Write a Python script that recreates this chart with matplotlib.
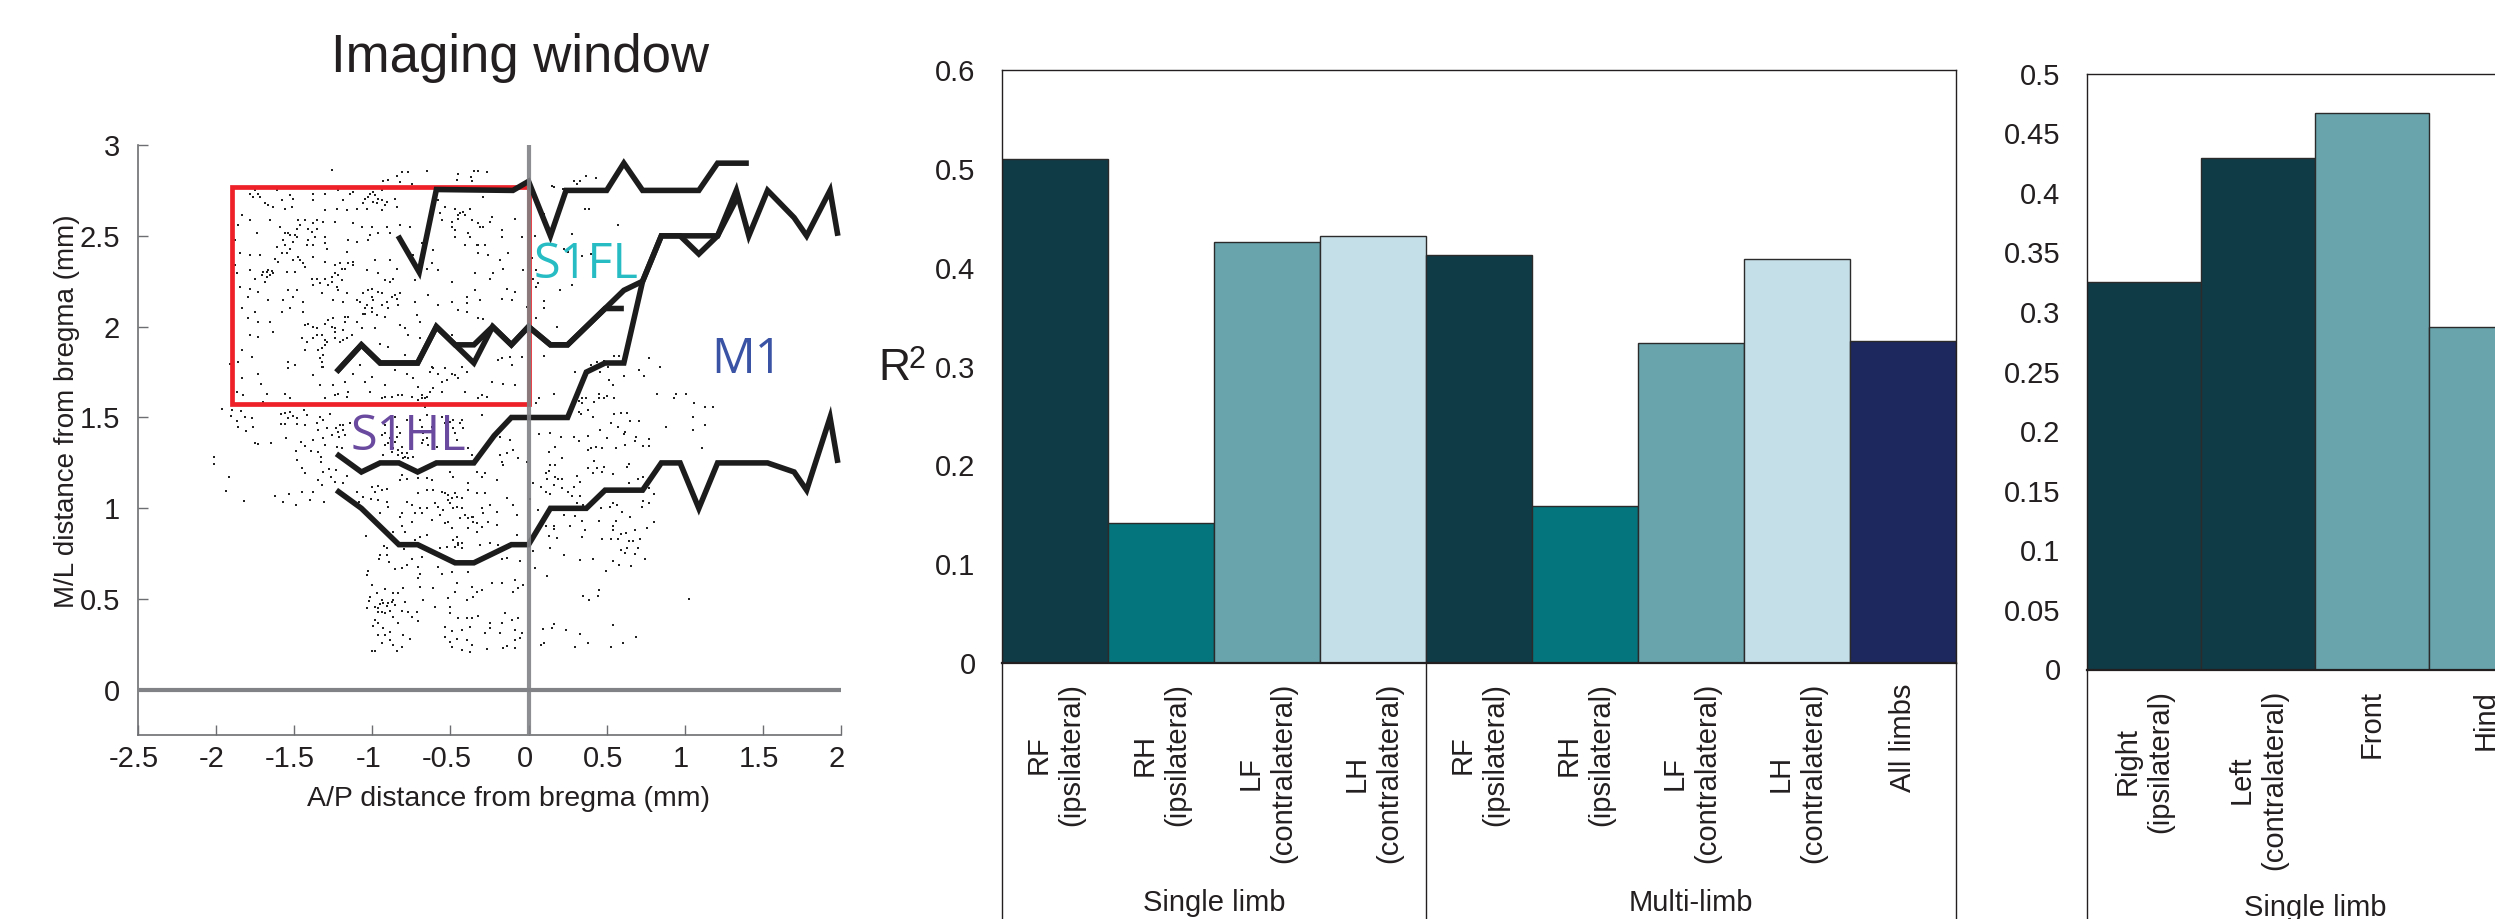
"""Imaging window map with R2 bar panels, saved to out.png."""

import matplotlib
matplotlib.use("Agg")
import matplotlib.pyplot as plt
from matplotlib.patches import Rectangle
from matplotlib.transforms import ScaledTranslation, blended_transform_factory

W, H = 2495, 919

# stippled cells (A/P, M/L)
dots_red_box = [
    (-1.89, 2.724), (-1.89, 2.705), (-1.784, 2.733), (-1.752, 2.751), (-1.73, 2.733), (-1.72, 2.715), (-1.763, 2.715),
    (-1.688, 2.678), (-1.667, 2.669), (-1.635, 2.66), (-1.613, 2.751), (-1.581, 2.696), (-1.528, 2.724), (-1.506, 2.705),
    (-1.56, 2.65), (-1.517, 2.66), (-1.378, 2.733), (-1.304, 2.733), (-1.378, 2.696), (-1.218, 2.751), (-1.186, 2.696),
    (-1.144, 2.733), (-1.122, 2.742), (-1.304, 2.641), (-1.229, 2.65), (-1.165, 2.641), (-1.101, 2.65), (-1.048, 2.705),
    (-1.016, 2.733), (-0.984, 2.724), (-0.962, 2.705), (-0.994, 2.687), (-1.037, 2.65), (-0.941, 2.751), (-0.909, 2.687),
    (-0.856, 2.705), (-0.845, 2.66), (-0.941, 2.641), (-0.578, 2.696), (-0.536, 2.66), (-0.568, 2.623), (-0.472, 2.65),
    (-0.44, 2.623), (-0.407, 2.614), (-0.45, 2.595), (-0.375, 2.65), (-0.29, 2.715), (-0.237, 2.605), (-0.087, 2.595),
    (-1.837, 2.614), (-1.784, 2.586), (-1.859, 2.559), (-1.741, 2.513), (-1.88, 2.476), (-1.656, 2.586), (-1.592, 2.55),
    (-1.56, 2.513), (-1.528, 2.504), (-1.485, 2.54), (-1.475, 2.586), (-1.432, 2.586), (-1.378, 2.568), (-1.357, 2.54),
    (-1.368, 2.494), (-1.41, 2.476), (-1.571, 2.476), (-1.506, 2.467), (-1.613, 2.44), (-1.304, 2.458), (-1.314, 2.577),
    (-1.24, 2.577), (-1.122, 2.568), (-1.069, 2.55), (-1.005, 2.55), (-1.154, 2.476), (-1.101, 2.467), (-1.026, 2.476),
    (-1.016, 2.504), (-0.962, 2.513), (-0.909, 2.55), (-0.888, 2.513), (-0.824, 2.559), (-0.76, 2.55), (-0.653, 2.522),
    (-0.685, 2.458), (-0.557, 2.586), (-0.493, 2.55), (-0.472, 2.494), (-0.386, 2.513), (-0.322, 2.568), (-0.29, 2.55),
    (-0.333, 2.449), (-0.247, 2.577), (-0.173, 2.531), (-0.173, 2.494), (-0.045, 2.494), (-0.407, 2.449),
    (-1.848, 2.403), (-1.784, 2.394), (-1.72, 2.394), (-1.88, 2.339), (-1.869, 2.293), (-1.784, 2.311), (-1.699, 2.302),
    (-1.667, 2.311), (-1.635, 2.293), (-1.677, 2.274), (-1.752, 2.265), (-1.624, 2.375), (-1.549, 2.403), (-1.506, 2.366),
    (-1.464, 2.366), (-1.432, 2.329), (-1.496, 2.302), (-1.549, 2.302), (-1.378, 2.384), (-1.304, 2.357), (-1.208, 2.348),
    (-1.165, 2.412), (-1.122, 2.357), (-1.176, 2.32), (-1.24, 2.293), (-1.304, 2.265), (-1.389, 2.265), (-1.261, 2.247),
    (-1.197, 2.256), (-1.037, 2.311), (-0.984, 2.366), (-0.962, 2.293), (-0.888, 2.366), (-0.845, 2.32), (-0.866, 2.265),
    (-0.92, 2.256), (-0.738, 2.394), (-0.621, 2.348), (-0.653, 2.32), (-0.578, 2.311), (-0.61, 2.421), (-0.728, 2.256),
    (-0.493, 2.247), (-0.322, 2.403), (-0.258, 2.394), (-0.13, 2.403), (-0.184, 2.366), (-0.343, 2.293), (-0.226, 2.293),
    (-0.247, 2.265), (-0.162, 2.32), (-0.034, 2.311),
    (-1.848, 2.219), (-1.784, 2.21), (-1.795, 2.164), (-1.731, 2.192), (-1.667, 2.146), (-1.688, 2.247), (-1.539, 2.201),
    (-1.485, 2.201), (-1.506, 2.164), (-1.571, 2.146), (-1.442, 2.137), (-1.528, 2.1), (-1.581, 2.082), (-1.442, 2.082),
    (-1.837, 2.1), (-1.752, 2.082), (-1.378, 2.228), (-1.325, 2.183), (-1.25, 2.146), (-1.218, 2.201), (-1.165, 2.183),
    (-1.186, 2.137), (-1.101, 2.146), (-1.058, 2.183), (-1.005, 2.21), (-0.941, 2.183), (-0.994, 2.146), (-1.048, 2.1),
    (-1.058, 2.072), (-1.005, 2.082), (-0.898, 2.1), (-0.845, 2.155), (-0.834, 2.118), (-0.824, 2.183), (-0.888, 2.247),
    (-0.728, 2.137), (-0.642, 2.173), (-0.578, 2.118), (-0.493, 2.137), (-0.397, 2.164), (-0.397, 2.128), (-0.343, 2.201),
    (-0.311, 2.146), (-0.45, 2.091), (-0.397, 2.082), (-0.141, 2.21), (-0.109, 2.146), (-0.087, 2.192), (-0.173, 2.155),
    (-0.012, 2.109),
    (-1.795, 2.045), (-1.731, 2.027), (-1.656, 2.027), (-1.634, 1.972), (-1.784, 1.953), (-1.731, 1.944), (-1.432, 2.008),
    (-1.378, 1.999), (-1.304, 2.017), (-1.25, 2.045), (-1.176, 2.054), (-1.101, 2.027), (-1.24, 1.99), (-1.186, 1.981),
    (-1.453, 1.935), (-1.421, 1.916), (-1.357, 1.953), (-1.304, 1.926), (-1.24, 1.935), (-1.186, 1.926), (-1.133, 1.953),
    (-1.069, 1.99), (-0.984, 1.99), (-0.92, 2.054), (-0.824, 2.008), (-0.77, 1.953), (-0.717, 2.063), (-0.696, 2.027),
    (-0.792, 1.99), (-0.493, 1.953), (-0.322, 2.045), (-0.29, 2.041), (-1.432, 1.871), (-1.325, 1.88), (-1.304, 1.898),
    (-0.952, 1.907), (-0.898, 1.889), (-0.792, 1.843), (-0.696, 1.935),
    (-1.539, 1.806), (-1.496, 1.788), (-1.539, 1.77), (-1.325, 1.806), (-1.314, 1.779), (-1.837, 1.871), (-1.859, 1.806),
    (-1.773, 1.834), (-1.912, 1.794), (-1.731, 1.737), (-1.713, 1.687), (-1.837, 1.715), (-1.869, 1.638), (-1.827, 1.623),
    (-1.677, 1.627), (-1.56, 1.632), (-1.528, 1.605), (-1.699, 1.586), (-1.378, 1.733), (-1.336, 1.678), (-1.25, 1.678),
    (-1.304, 1.605), (-1.218, 1.632), (-1.176, 1.696), (-1.122, 1.742), (-1.08, 1.788), (-1.154, 1.641), (-1.048, 1.696),
    (-1.005, 1.724), (-0.92, 1.678), (-1.016, 1.641), (-0.941, 1.605), (-0.856, 1.761), (-0.781, 1.742), (-0.834, 1.623),
    (-0.738, 1.715), (-0.706, 1.669), (-0.685, 1.605), (-0.653, 1.614), (-0.621, 1.779), (-0.578, 1.742), (-0.525, 1.705),
    (-0.61, 1.66), (-0.557, 1.641), (-0.493, 1.742), (-0.429, 1.779), (-0.45, 1.715), (-0.407, 1.641), (-0.322, 1.605),
    (-0.269, 1.614), (-0.237, 1.696), (-0.194, 1.816), (-0.173, 1.825), (-0.119, 1.834), (-0.109, 1.788), (-0.045, 1.834),
    (-0.162, 1.687), (-0.087, 1.678), (-0.13, 1.577), (-0.653, 1.577), (-0.664, 1.559), (-0.749, 1.614),
]

# second pass over the densest patches inside the box
dots_red_box_dense = [
    (-1.539, 2.513), (-1.485, 2.494), (-1.41, 2.54), (-1.389, 2.522), (-1.421, 2.449), (-1.378, 2.449), (-1.56, 2.449),
    (-1.528, 2.43), (-1.496, 2.504), (-1.464, 2.559), (-1.357, 2.586), (-1.304, 2.494), (-1.293, 2.43), (-1.581, 2.403),
    (-1.474, 2.384), (-1.442, 2.348), (-1.603, 2.357), (-1.709, 2.283), (-1.677, 2.302), (-1.645, 2.306), (-1.656, 2.283),
    (-1.24, 2.339), (-1.197, 2.32), (-1.154, 2.348), (-1.122, 2.339), (-1.218, 2.283), (-1.261, 2.274), (-1.357, 2.265),
    (-1.336, 2.238), (-1.282, 2.228), (-1.229, 2.219), (-1.08, 2.137), (-1.026, 2.201), (-1.005, 2.164), (-0.962, 2.192),
    (-1.037, 2.118), (-1.005, 2.1), (-0.941, 2.118), (-0.909, 2.137), (-0.856, 2.173), (-0.877, 2.164), (-1.048, 2.072),
    (-0.973, 2.063), (-1.176, 2.027), (-1.154, 2.054), (-1.41, 2.017), (-1.357, 1.99), (-1.282, 2.036), (-1.261, 1.999),
    (-1.378, 1.935), (-1.325, 1.953), (-1.293, 1.916), (-1.346, 1.871), (-1.314, 1.843), (-1.325, 1.779), (-1.336, 1.825),
    (-1.24, 1.972), (-1.208, 1.916), (-1.165, 1.935), (-1.026, 2.715), (-0.994, 2.742), (-0.973, 2.678), (-0.941, 2.696),
    (-0.92, 2.669), (-1.058, 2.678), (-0.45, 2.614), (-0.418, 2.632), (-0.493, 2.577), (-0.472, 2.531), (-0.365, 2.586),
    (-0.312, 2.55), (-0.375, 2.494), (-0.322, 2.449), (-0.28, 2.449), (-0.664, 1.605), (-0.685, 1.623), (-0.632, 1.641),
    (-0.706, 1.595), (-0.61, 1.77), (-0.632, 1.751), (-0.557, 1.696), (-0.536, 1.77), (-0.472, 1.733), (-0.397, 1.751),
    (-1.24, 1.623), (-1.165, 1.614), (-0.92, 1.614), (-0.877, 1.614), (-0.813, 1.623), (-0.301, 1.623),
]

dots_above_box = [
    (-1.257, 2.861), (-0.813, 2.849), (-0.77, 2.849), (-0.845, 2.83), (-0.824, 2.797), (-0.93, 2.8), (-0.653, 2.856),
    (-0.45, 2.838), (-0.461, 2.806), (-0.348, 2.856), (-0.322, 2.856), (-0.269, 2.849), (-0.369, 2.825), (-0.365, 2.8),
    (-0.898, 2.806), (-0.749, 2.788), (-0.493, 2.77),
]

dots_hindlimb = [
    (-1.96, 1.545), (-1.90, 1.54), (-1.905, 1.51), (-1.84, 1.535), (-1.815, 1.5), (-1.77, 1.495), (-1.865, 1.48),
    (-1.86, 1.445), (-1.765, 1.45), (-1.81, 1.425), (-1.75, 1.36), (-1.73, 1.355), (-1.65, 1.36), (-2.015, 1.284),
    (-2.015, 1.242), (-1.915, 1.175), (-1.935, 1.093), (-1.82, 1.04), (-1.62, 1.07), (-1.535, 1.077), (-1.57, 1.033),
    (-1.49, 1.016), (-1.45, 1.09), (-1.38, 1.09), (-1.40, 1.045), (-1.31, 1.035),
    (-1.585, 1.519), (-1.56, 1.526), (-1.53, 1.53), (-1.51, 1.508), (-1.54, 1.495), (-1.485, 1.495), (-1.44, 1.54),
    (-1.42, 1.513), (-1.585, 1.462), (-1.56, 1.464), (-1.485, 1.464), (-1.43, 1.458),
    (-1.336, 1.504), (-1.315, 1.486), (-1.357, 1.468), (-1.27, 1.519), (-1.346, 1.43), (-1.29, 1.44), (-1.26, 1.403),
    (-1.315, 1.385), (-1.38, 1.376), (-1.30, 1.348), (-1.55, 1.389), (-1.457, 1.363), (-1.43, 1.345), (-1.49, 1.317),
    (-1.395, 1.315), (-1.35, 1.312), (-1.33, 1.284), (-1.48, 1.266), (-1.33, 1.257), (-1.453, 1.222), (-1.43, 1.194),
    (-1.315, 1.2), (-1.278, 1.214), (-1.233, 1.21), (-1.265, 1.17), (-1.24, 1.146), (-1.35, 1.156), (-1.32, 1.126),
    (-1.165, 1.178), (-1.186, 1.137), (-1.095, 1.09), (-1.06, 1.064), (-1.085, 1.036),
    (-1.208, 1.458), (-1.186, 1.43), (-1.23, 1.44), (-1.214, 1.394), (-1.176, 1.403), (-1.229, 1.339), (-1.197, 1.33),
    (-1.144, 1.468), (-0.909, 1.486), (-0.94, 1.403), (-0.92, 1.348), (-0.887, 1.385), (-0.856, 1.504), (-0.845, 1.449),
    (-0.877, 1.431), (-0.824, 1.412), (-0.856, 1.367), (-0.813, 1.339), (-0.877, 1.312), (-0.93, 1.293), (-0.834, 1.293),
    (-0.802, 1.275), (-0.781, 1.302), (-0.738, 1.284), (-0.781, 1.486), (-0.75, 1.431), (-0.696, 1.486), (-0.674, 1.412),
    (-0.685, 1.358), (-0.653, 1.385), (-0.621, 1.449), (-0.589, 1.339), (-0.653, 1.513), (-0.557, 1.504), (-0.504, 1.477),
    (-0.482, 1.44), (-0.514, 1.394), (-0.461, 1.376), (-0.429, 1.486), (-0.418, 1.44), (-0.386, 1.33), (-0.365, 1.293),
    (-0.301, 1.513), (-0.183, 1.394), (-0.119, 1.376), (-0.183, 1.293), (-0.14, 1.302), (-0.173, 1.257), (-0.098, 1.321),
    (-0.066, 1.275), (-0.013, 1.257), (-0.162, 1.238),
    (-0.813, 1.183), (-0.824, 1.156), (-0.781, 1.159), (-0.706, 1.165), (-0.653, 1.165), (-0.621, 1.156), (-0.504, 1.2),
    (-0.482, 1.17), (-0.386, 1.137), (-0.333, 1.2), (-0.279, 1.192), (-0.301, 1.17), (-0.205, 1.156),
    (-1.0, 1.119), (-0.962, 1.123), (-0.941, 1.1), (-0.984, 1.091), (-0.903, 1.104), (-1.011, 1.049), (-0.962, 1.046),
    (-0.909, 1.036), (-0.952, 0.972), (-0.898, 1.005),
    (-0.706, 1.086), (-0.653, 1.1), (-0.61, 1.1), (-0.557, 1.091), (-0.514, 1.073), (-0.471, 1.082), (-0.429, 1.055),
    (-0.386, 1.1), (-0.333, 1.082), (-0.279, 1.082), (-0.781, 1.036), (-0.749, 1.018), (-0.696, 0.9996), (-0.653, 1.0),
    (-0.6, 1.027), (-0.546, 0.99), (-0.504, 1.027), (-0.461, 1.009), (-0.408, 0.963), (-0.365, 0.954), (-0.301, 1.0),
    (-0.248, 1.018), (-0.205, 0.981), (-0.141, 1.055), (-0.098, 1.018), (-0.077, 0.963), (-0.813, 0.972), (-0.824, 0.954),
    (-0.728, 0.972), (-0.685, 0.972), (-0.567, 0.963), (-0.514, 0.926), (-0.44, 0.945), (-0.354, 0.926), (-0.301, 0.899),
    (-0.258, 0.926), (-0.205, 0.908), (-0.813, 0.902), (-0.749, 0.926), (-0.79, 0.871), (-0.621, 0.935), (-0.535, 0.917),
    (-0.493, 0.89), (-0.386, 0.89), (-0.333, 0.871),
    (-0.696, 0.844), (-0.653, 0.853), (-0.728, 0.825), (-1.041, 0.849), (-0.461, 0.844), (-0.482, 0.825), (-0.45, 0.798),
    (-0.429, 0.78), (-0.525, 0.789), (-0.567, 0.78), (-0.311, 0.798), (-0.247, 0.807), (-0.194, 0.798), (-0.077, 0.853),
    (-0.866, 0.871),
    (-0.926, 0.792), (-0.903, 0.78), (-0.952, 0.743), (-0.903, 0.743), (-0.958, 0.721), (-0.892, 0.706), (-0.798, 0.774),
    (-0.685, 0.734), (-0.749, 0.719), (-0.781, 0.688), (-0.856, 0.664), (-0.813, 0.669), (-0.706, 0.679), (-0.578, 0.679),
    (-0.557, 0.638), (-0.493, 0.651), (-0.386, 0.651), (-0.173, 0.719), (-0.141, 0.724), (-0.055, 0.712),
    (-1.027, 0.657), (-1.033, 0.633), (-0.695, 0.638), (-0.706, 0.614), (-1.0, 0.578), (-0.92, 0.554), (-0.802, 0.563),
    (-0.695, 0.568), (-0.61, 0.559), (-0.461, 0.59), (-0.471, 0.541), (-0.365, 0.568), (-0.333, 0.541), (-0.301, 0.55),
    (-0.237, 0.587), (-0.173, 0.587), (-0.087, 0.605), (-0.034, 0.578), (-0.098, 0.541), (-0.066, 0.559),
    (-0.973, 0.535), (-0.866, 0.532), (-0.834, 0.532), (-1.016, 0.513), (-1.022, 0.491), (-0.941, 0.495), (-0.877, 0.486),
    (-0.79, 0.486), (-0.952, 0.473), (-0.984, 0.458), (-0.909, 0.462), (-0.856, 0.468), (-1.031, 0.453), (-0.962, 0.431),
    (-0.92, 0.425), (-0.888, 0.436), (-0.813, 0.436), (-0.77, 0.431), (-0.717, 0.431), (-0.866, 0.403), (-0.749, 0.403),
    (-0.706, 0.381), (-0.674, 0.495), (-0.6, 0.455), (-0.514, 0.504), (-0.397, 0.495), (-0.354, 0.513), (-0.504, 0.458),
    (-0.504, 0.422), (-0.322, 0.407), (-0.45, 0.394), (-0.397, 0.394), (-0.365, 0.394), (-0.151, 0.422), (-0.247, 0.367),
    (-0.173, 0.367), (-0.109, 0.385), (-0.066, 0.394),
    (-0.984, 0.385), (-0.962, 0.367), (-0.994, 0.352), (-0.93, 0.339), (-0.888, 0.321), (-0.92, 0.302), (-0.834, 0.37),
    (-0.962, 0.302), (-0.802, 0.302), (-0.76, 0.279), (-0.888, 0.275), (-0.941, 0.257), (-0.866, 0.247), (-0.813, 0.238),
    (-0.845, 0.216), (-1.005, 0.216), (-0.984, 0.216),
    (-0.536, 0.348), (-0.493, 0.326), (-0.429, 0.33), (-0.375, 0.348), (-0.536, 0.293), (-0.461, 0.279), (-0.504, 0.266),
    (-0.397, 0.275), (-0.365, 0.247), (-0.493, 0.235), (-0.429, 0.22), (-0.375, 0.211), (-0.269, 0.224), (-0.247, 0.339),
    (-0.279, 0.312), (-0.183, 0.312), (-0.087, 0.33), (-0.045, 0.312), (-0.087, 0.275), (-0.055, 0.284), (-0.162, 0.229),
    (-0.087, 0.229), (-0.141, 0.242),
]

dots_hindlimb_dense = [
    (-0.92, 1.412), (-0.898, 1.358), (-0.866, 1.33), (-0.834, 1.321), (-0.813, 1.302), (-0.792, 1.284), (-0.77, 1.275),
    (-0.845, 1.394), (-0.92, 1.458), (-0.674, 1.376), (-0.642, 1.348), (-0.685, 1.449), (-0.535, 1.468), (-0.482, 1.486),
    (-0.44, 1.468), (-0.471, 1.412), (-1.218, 1.422), (-1.186, 1.458), (-0.536, 1.082), (-0.493, 1.055), (-0.461, 1.064),
    (-0.514, 1.046), (-0.578, 1.009), (-0.482, 1.0), (-0.429, 1.0), (-0.386, 0.945), (-0.354, 0.954), (-0.333, 0.917),
    (-0.29, 0.972), (-0.45, 0.807), (-0.429, 0.807), (-0.471, 0.789), (-0.93, 0.477), (-0.898, 0.477), (-0.962, 0.449),
    (-0.941, 0.431), (-0.866, 0.495),
]

dots_right = [
    (0.15, 2.775), (0.16, 2.77), (0.29, 2.80), (0.33, 2.80), (0.31, 2.785), (0.37, 2.83), (0.43, 2.82), (0.22, 2.76),
    (0.36, 2.65), (0.385, 2.65), (0.10, 2.62), (0.57, 2.56), (0.28, 2.51), (0.04, 2.50), (0.23, 2.43), (0.25, 2.41),
    (0.34, 2.39), (0.40, 2.40), (0.02, 2.38), (0.05, 2.31), (0.03, 2.26), (0.06, 2.24), (0.05, 2.22), (0.28, 2.23),
    (0.2, 2.2), (0.1, 2.14), (0.01, 2.14), (0.10, 2.10), (0.05, 2.05), (0.18, 2.0), (0.10, 1.84), (0.55, 1.84),
    (0.58, 1.84), (0.77, 1.825), (0.84, 1.78), (0.48, 1.81), (0.44, 1.807), (0.40, 1.79), (0.30, 1.75), (0.51, 1.78),
    (0.46, 1.75), (0.71, 1.76), (0.74, 1.73), (0.61, 1.73), (0.515, 1.705), (0.54, 1.68), (0.16, 1.63), (0.07, 1.61),
    (0.05, 1.58), (0.34, 1.61), (0.37, 1.61), (0.45, 1.63), (0.50, 1.62), (0.485, 1.61), (0.545, 1.61), (0.45, 1.605),
    (0.42, 1.585), (0.325, 1.59), (0.34, 1.58), (0.825, 1.63), (0.945, 1.63), (0.93, 1.61), (1.01, 1.63), (1.06, 1.58),
    (1.13, 1.56), (1.18, 1.56), (0.32, 1.53), (0.38, 1.54), (0.335, 1.52), (0.415, 1.505), (0.55, 1.52), (0.59, 1.525),
    (0.63, 1.525), (0.53, 1.47), (0.65, 1.48), (0.71, 1.48), (0.57, 1.445), (0.455, 1.43), (1.05, 1.50), (1.13, 1.46),
    (0.88, 1.45), (1.05, 1.43), (0.07, 1.41), (0.14, 1.415), (0.61, 1.41), (0.62, 1.42), (0.38, 1.40), (0.21, 1.395),
    (0.29, 1.39), (0.32, 1.37), (0.50, 1.385), (0.69, 1.39), (0.77, 1.38), (0.68, 1.37), (0.17, 1.34), (0.40, 1.33),
    (0.43, 1.335), (0.47, 1.33), (0.38, 1.32), (0.615, 1.35), (0.56, 1.33), (0.73, 1.345), (0.77, 1.345), (1.11, 1.33),
    (0.13, 1.31), (0.215, 1.275), (0.42, 1.26), (0.17, 1.24), (0.14, 1.24), (0.64, 1.245), (0.63, 1.23), (0.38, 1.22),
    (0.48, 1.23), (0.44, 1.22), (0.13, 1.205), (0.11, 1.195), (0.41, 1.195), (0.47, 1.20), (0.54, 1.19), (0.31, 1.18),
    (0.17, 1.17), (0.115, 1.16), (0.215, 1.16), (0.19, 1.16), (0.03, 1.14), (0.33, 1.145), (0.73, 1.17), (0.70, 1.16),
    (0.165, 1.13), (0.08, 1.12), (0.29, 1.12), (0.64, 1.14), (0.215, 1.11), (0.11, 1.09), (0.14, 1.08), (0.25, 1.09),
    (0.33, 1.07), (0.28, 1.07), (0.77, 1.11), (0.80, 1.08), (0.01, 1.05), (0.735, 1.04), (0.31, 1.03), (0.35, 1.02),
    (0.77, 1.03), (0.54, 1.03), (0.565, 1.02), (0.725, 1.01), (0.52, 1.01), (0.465, 1.0), (0.06, 0.99), (0.595, 0.98),
    (0.225, 0.965), (0.30, 0.96), (0.65, 0.95), (0.45, 0.93), (0.34, 0.93), (0.56, 0.93), (0.80, 0.925), (0.11, 0.90),
    (0.16, 0.90), (0.265, 0.90), (0.54, 0.90), (0.76, 0.89), (0.16, 0.885), (0.36, 0.88), (0.54, 0.88), (0.68, 0.88),
    (0.59, 0.86), (0.625, 0.865), (0.13, 0.85), (0.34, 0.84), (0.185, 0.835), (0.47, 0.83), (0.53, 0.83), (0.57, 0.83),
    (0.64, 0.82), (0.67, 0.82), (0.715, 0.83), (0.14, 0.78), (0.63, 0.78), (0.59, 0.77), (0.70, 0.78), (0.03, 0.765),
    (0.62, 0.755), (0.68, 0.75), (0.225, 0.745), (0.33, 0.715), (0.41, 0.72), (0.54, 0.71), (0.745, 0.72), (0.58, 0.69),
    (0.655, 0.68), (0.04, 0.67), (0.495, 0.655), (0.115, 0.63), (0.45, 0.55), (0.35, 0.52), (0.445, 0.52), (0.39, 0.495),
    (1.03, 0.50), (0.54, 0.36), (0.16, 0.365), (0.09, 0.335), (0.15, 0.34), (0.24, 0.33), (0.33, 0.31), (0.69, 0.29),
    (0.10, 0.26), (0.08, 0.245), (0.38, 0.26), (0.605, 0.26), (0.295, 0.235), (0.53, 0.235),
]

# black contour lines (A/P, M/L)
contour_top = [(-0.835, 2.5), (-0.7, 2.3), (-0.59, 2.755), (-0.1, 2.75), (0, 2.8), (0.14, 2.5), (0.24, 2.75), (0.5, 2.75),
               (0.61, 2.9), (0.73, 2.75), (1.09, 2.75), (1.21, 2.9), (1.41, 2.9)]
contour_mid_a = [(-1.23, 1.75), (-1.07, 1.9), (-0.95, 1.8), (-0.71, 1.8), (-0.59, 2.0), (-0.47, 1.9), (-0.35, 1.9), (-0.23, 2.0),
                 (-0.11, 1.9), (0, 2.0), (0.14, 1.9), (0.25, 1.9), (0.49, 2.1), (0.61, 2.1)]
contour_mid_b = [(-1.23, 1.75), (-1.07, 1.9), (-0.95, 1.8), (-0.71, 1.8), (-0.59, 2.0), (-0.47, 1.9), (-0.35, 1.8), (-0.23, 2.0),
                 (-0.11, 1.9), (0, 2.0), (0.14, 1.9), (0.25, 1.9), (0.49, 2.1), (0.61, 2.2), (0.73, 2.25), (0.85, 2.5),
                 (0.97, 2.5), (1.09, 2.4), (1.21, 2.5), (1.33, 2.75), (1.41, 2.5), (1.53, 2.75), (1.7, 2.6), (1.78, 2.5),
                 (1.93, 2.75), (1.98, 2.5)]
contour_low_a = [(-1.23, 1.3), (-1.07, 1.2), (-0.95, 1.25), (-0.83, 1.25), (-0.71, 1.2), (-0.59, 1.25), (-0.35, 1.25), (-0.22, 1.4),
                 (-0.11, 1.5), (0.25, 1.5), (0.37, 1.75), (0.49, 1.8), (0.61, 1.8), (0.73, 2.25), (0.85, 2.5), (1.21, 2.5),
                 (1.33, 2.7)]
contour_low_b = [(-1.23, 1.1), (-1.07, 1.0), (-0.83, 0.8), (-0.71, 0.8), (-0.47, 0.7), (-0.35, 0.7), (-0.11, 0.8), (0, 0.8),
                 (0.14, 1.0), (0.37, 1.0), (0.49, 1.1), (0.73, 1.1), (0.85, 1.25), (0.97, 1.25), (1.09, 1.0), (1.21, 1.25),
                 (1.53, 1.25), (1.7, 1.2), (1.78, 1.1), (1.93, 1.5), (1.98, 1.25)]

map_xticks = [-2.5, -2, -1.5, -1, -0.5, 0, 0.5, 1, 1.5, 2]
map_xticklabels = ["-2.5", "-2", "-1.5", "-1", "-0.5", "0", "0.5", "1", "1.5", "2"]
map_yticks = [0, 0.5, 1, 1.5, 2, 2.5, 3]
map_yticklabels = ["0", "0.5", "1", "1.5", "2", "2.5", "3"]

limb_labels = ["RF\n(ipsilateral)", "RH\n(ipsilateral)", "LF\n(contralateral)", "LH\n(contralateral)",
               "RF\n(ipsilateral)", "RH\n(ipsilateral)", "LF\n(contralateral)", "LH\n(contralateral)", "All limbs"]
limb_r2 = [0.51, 0.142, 0.426, 0.432, 0.413, 0.159, 0.324, 0.409, 0.326]
limb_colors = ["#0f3b47", "#04757c", "#69a4ad", "#c4dfe7", "#0f3b47", "#04757c", "#69a4ad", "#c4dfe7", "#1d285e"]
limb_yticks = [0, 0.1, 0.2, 0.3, 0.4, 0.5, 0.6]
limb_yticklabels = ["0", "0.1", "0.2", "0.3", "0.4", "0.5", "0.6"]

side_labels = ["Right\n(ipsilateral)", "Left\n(contralateral)", "Front", "Hind"]
side_r2 = [0.3255, 0.429, 0.467, 0.287]
side_colors = ["#0f3b47", "#0f3b47", "#69a4ad", "#69a4ad"]
side_yticks = [0, 0.05, 0.1, 0.15, 0.2, 0.25, 0.3, 0.35, 0.4, 0.45, 0.5]
side_yticklabels = ["0", "0.05", "0.1", "0.15", "0.2", "0.25", "0.3", "0.35", "0.4", "0.45", "0.5"]

plt.rcParams["font.family"] = ["Liberation Sans", "DejaVu Sans"]
TEXT = "#231f20"


def add_axes_px(fig, left, top, right, bottom):
    return fig.add_axes([left / W, 1 - bottom / H, (right - left) / W, (bottom - top) / H])


def plot_contour(ax, points):
    ax.plot([p[0] for p in points], [p[1] for p in points], color="#1c1c1c", lw=4,
            solid_joinstyle="miter", solid_capstyle="butt", zorder=4)


def draw_map(fig):
    ax = add_axes_px(fig, 138, 145, 841, 735.4)
    ax.set_xlim(-2.5, 2)
    ax.set_ylim(-0.25, 3)
    for side in ("top", "right"):
        ax.spines[side].set_visible(False)
    for side in ("left", "bottom"):
        ax.spines[side].set_color("#6d6e71")
        ax.spines[side].set_linewidth(1.2)

    dots = dots_red_box + dots_red_box_dense + dots_above_box + dots_hindlimb + dots_hindlimb_dense + dots_right
    ax.scatter([d[0] for d in dots], [d[1] for d in dots], s=4, marker="s", color="#222222", linewidths=0, zorder=2)

    ax.add_patch(Rectangle((-1.9, 1.573), 1.9, 1.197, fill=False, edgecolor="#ee2028", lw=3.4, zorder=3))
    ax.axhline(0, color="#808285", lw=3, zorder=3)
    ax.axvline(0, color="#808285", lw=3, alpha=0.9, zorder=5)

    for line in (contour_top, contour_mid_a, contour_mid_b, contour_low_a, contour_low_b):
        plot_contour(ax, line)

    ax.set_xticks(map_xticks, map_xticklabels)
    ax.set_yticks(map_yticks, map_yticklabels)
    ax.tick_params(axis="both", direction="in", length=7, width=1, color="#6d6e71", labelsize=21, labelcolor=TEXT)
    ax.tick_params(axis="x", pad=7)
    ax.tick_params(axis="y", pad=13)
    # labels sit a little left of their ticks in the source
    nudge = ScaledTranslation(-4 / 100, 0, fig.dpi_scale_trans)
    for label in ax.get_xticklabels():
        label.set_transform(label.get_transform() + nudge)

    area_font = ["Open Sans", "DejaVu Sans"]
    ax.text(0.03, 2.27, "S1FL", color="#27bcc4", fontsize=35, family=area_font, ha="left", va="baseline", zorder=6)
    ax.text(1.17, 1.745, "M1", color="#3a53a4", fontsize=35, family=area_font, ha="left", va="baseline", zorder=6)
    ax.text(-1.14, 1.32, "S1HL", color="#6a4a9f", fontsize=35, family=area_font, ha="left", va="baseline", zorder=6)

    fig.text(520 / W, 1 - 58 / H, "Imaging window", fontsize=38, color=TEXT, ha="center", va="center")
    fig.text(509 / W, 1 - 799 / H, "A/P distance from bregma (mm)", fontsize=20.5, color=TEXT, ha="center", va="center")
    fig.text(67 / W, 1 - 411 / H, "M/L distance from bregma (mm)", fontsize=20, color=TEXT, ha="center", va="center",
             rotation=90)


def draw_bars(ax, values, colors, labels, yticks, yticklabels):
    xs = list(range(len(values)))
    ax.bar(xs, values, width=1, color=colors, edgecolor="#2b2b2b", linewidth=1, zorder=2)
    ax.set_yticks(yticks, yticklabels)
    ax.set_xticks(xs)
    ax.set_xticklabels(labels, rotation=90, ha="center", va="top", multialignment="center", linespacing=1.2)
    ax.tick_params(axis="x", length=0, pad=14.5, labelsize=21, labelcolor=TEXT)
    ax.tick_params(axis="y", length=0, pad=19, labelsize=21, labelcolor=TEXT)
    for side in ("top", "left", "right"):
        ax.spines[side].set_linewidth(1)
        ax.spines[side].set_color("#231f20")
    ax.spines["bottom"].set_linewidth(1.6)
    ax.spines["bottom"].set_color("#231f20")


def draw_limb_panel(fig):
    ax = add_axes_px(fig, 1002, 70, 1956, 663)
    ax.set_xlim(-0.5, 8.5)
    ax.set_ylim(0, 0.6)
    draw_bars(ax, limb_r2, limb_colors, limb_labels, limb_yticks, limb_yticklabels)

    trans = blended_transform_factory(ax.transData, ax.transAxes)
    for x in (-0.5, 3.5, 8.5):
        ax.plot([x, x], [0, -0.43], transform=trans, color="#231f20", lw=1, clip_on=False)
    ax.text(1.5, -0.405, "Single limb", transform=trans, fontsize=21, color=TEXT, ha="center", va="center")
    ax.text(6, -0.405, "Multi-limb", transform=trans, fontsize=21, color=TEXT, ha="center", va="center")

    fig.text(878 / W, 1 - 369 / H, "R", fontsize=32, color=TEXT, ha="left", va="center")
    fig.text(908 / W, 1 - 360 / H, "2", fontsize=22, color=TEXT, ha="left", va="center")


def draw_side_panel(fig):
    # runs off the right edge of the figure, as in the source
    ax = add_axes_px(fig, 2087, 73.6, 2087 + 114 * 5, 669.5)
    ax.set_xlim(-0.5, 4.5)
    ax.set_ylim(0, 0.5)
    draw_bars(ax, side_r2, side_colors, side_labels, side_yticks, side_yticklabels)

    trans = blended_transform_factory(ax.transData, ax.transAxes)
    ax.plot([-0.5, -0.5], [0, -0.43], transform=trans, color="#231f20", lw=1, clip_on=False)
    ax.text(1.5, -0.4, "Single limb", transform=trans, fontsize=21, color=TEXT, ha="center", va="center")


def main():
    fig = plt.figure(figsize=(W / 100, H / 100), dpi=100, facecolor="white")
    draw_map(fig)
    draw_limb_panel(fig)
    draw_side_panel(fig)
    fig.savefig("out.png", dpi=100)


if __name__ == "__main__":
    main()
